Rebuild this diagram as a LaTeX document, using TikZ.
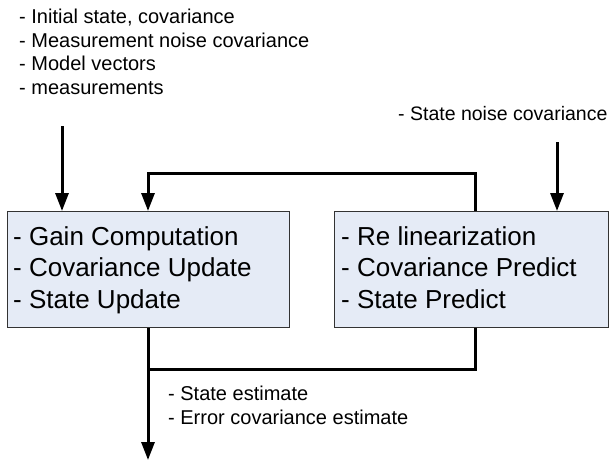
\documentclass[tikz,border=0pt]{standalone}
\usepackage{fontspec}
\setmainfont{Liberation Sans}
\usetikzlibrary{arrows.meta,calc}
\definecolor{boxfill}{HTML}{E5EBF6}
\definecolor{boxline}{HTML}{333333}
\begin{document}
\begin{tikzpicture}[x=1pt,y=-1pt,
  block/.style={draw=boxline, line width=1.3pt, fill=boxfill, minimum width=282pt,
    minimum height=116pt, inner sep=0, anchor=north west},
  big/.style={font=\fontsize{26}{31.5}\selectfont, align=left, anchor=base west, inner sep=0},
  small/.style={font=\fontsize{20}{23.5}\selectfont, align=left, anchor=base west, inner sep=0},
  flow/.style={line width=3pt, line join=miter},
  arr/.style={flow, -{Triangle[length=18pt,width=13pt]}}]
\useasboundingbox (0,0) rectangle (609,460);

% filter blocks (text nodes are placed by the baseline of their last line)
\node[block] (upd) at (7,211) {};
\node[block, minimum width=274pt] (pred) at (334,211) {};
\node[big] (updtxt) at (13,308) {- Gain Computation\\- Covariance Update\\- State Update};
\node[big] (predtxt) at (341,308) {- Re linearization\\- Covariance Predict\\- State Predict};

% inputs and outputs
\node[small] (inputs) at (19,94) {- Initial state, covariance\\- Measurement noise covariance\\- Model vectors\\- measurements};
\node[small, font=\fontsize{19.5}{23.5}\selectfont] (noise) at (398,120) {- State noise covariance};
\node[small] (outputs) at (168,424) {- State estimate\\- Error covariance estimate};

% input arrows
\coordinate (inA) at (62,126);
\coordinate (inB) at (557,142);
\draw[arr] (inA) -- (inA |- upd.north);
\draw[arr] (inB) -- (inB |- pred.north);

% feedback from prediction to update
\coordinate (fbR) at ($(pred.north west)+(141,0)$);
\coordinate (fbL) at ($(upd.north west)+(141,0)$);
\draw[arr] (fbR) -- ++(0,-38) -| (fbL);

% outputs
\coordinate (outL) at ($(upd.south west)+(141,0)$);
\coordinate (outR) at ($(pred.south west)+(141,0)$);
\coordinate (outEnd) at (148,460);
\draw[arr] (outL) -- (outEnd);
\draw[flow] (outR) -- (outR |- 0,369) -- (outL |- 0,369);
\end{tikzpicture}
\end{document}
